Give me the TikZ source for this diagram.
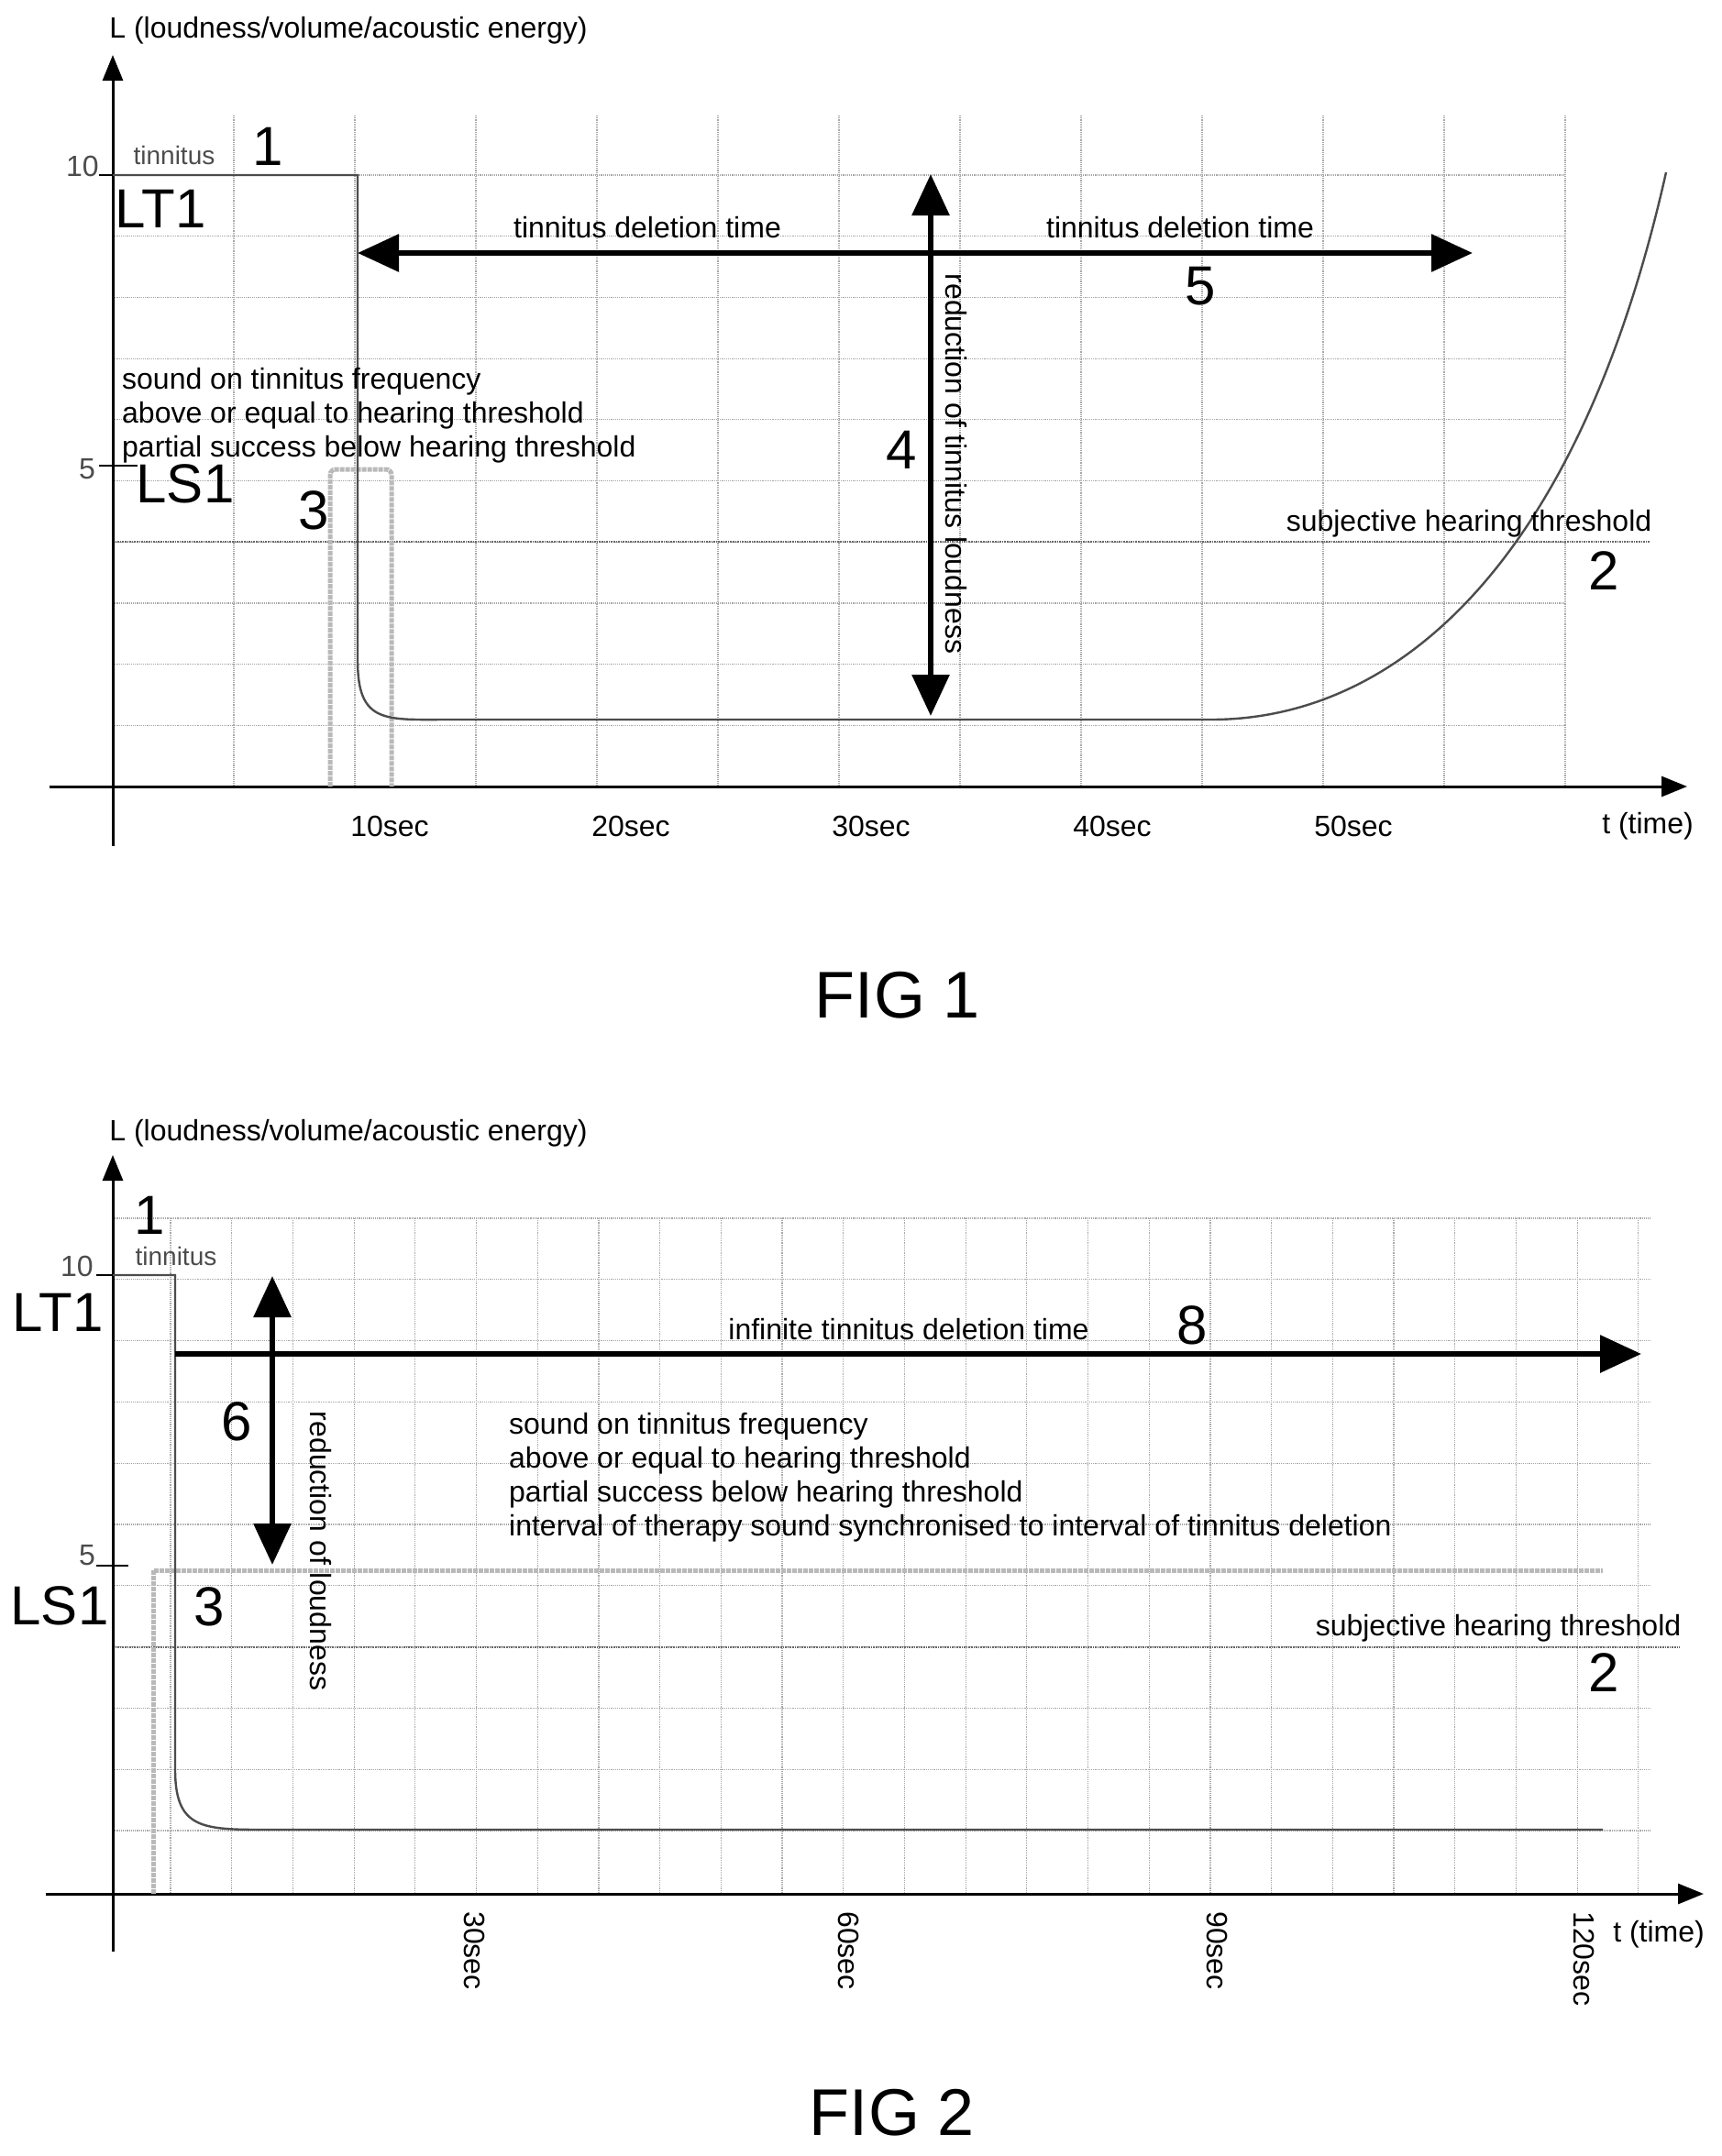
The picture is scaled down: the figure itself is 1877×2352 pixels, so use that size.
\documentclass[tikz,border=0pt]{standalone}
\usepackage{fontspec}
\setmainfont{Liberation Sans}
\usetikzlibrary{arrows.meta}
\begin{document}
\begin{tikzpicture}[x=1pt,y=-1pt,
  grid/.style={gray!70,densely dotted,line width=1.2pt},
  thr/.style={gray!80!black,densely dotted,line width=1.6pt},
  axis/.style={line width=3pt,-{Triangle[width=22pt,length=28pt]}},
  curve/.style={gray!60!black,line width=2.4pt},
  sound/.style={gray!55,line width=5pt,densely dotted},
  big/.style={line width=6pt,{Triangle[width=40pt,length=45pt]}-{Triangle[width=40pt,length=45pt]}},
  bigr/.style={line width=6pt,-{Triangle[width=40pt,length=45pt]}},
  lbl/.style={font=\fontsize{32}{37}\selectfont,inner sep=0pt},
  slbl/.style={font=\fontsize{28}{32}\selectfont,text=gray!60!black,inner sep=0pt},
  num/.style={font=\fontsize{60}{64}\selectfont,inner sep=0pt},
  fig/.style={font=\fontsize{72}{80}\selectfont,inner sep=0pt}]
\useasboundingbox (0,0) rectangle (1877,2352);
\fill[white] (0,0) rectangle (1877,2352);
% ===== FIG 1 =====
\foreach \k in {0,...,9} \draw[grid] (123,191+66.7*\k) -- (1707,191+66.7*\k);
\foreach \k in {1,...,12} \draw[grid] (123+132*\k,126) -- (123+132*\k,858);
\draw[thr] (123,591) -- (1800,591);
\coordinate (a1b) at (123,923); \coordinate (a1t) at (123,60);
\coordinate (x1l) at (54,858); \coordinate (x1r) at (1840,858);
\draw[axis] (a1b) -- (a1t);
\draw[axis] (x1l) -- (x1r);
\draw[line width=2pt] (108,191) -- (123,191) (108,508) -- (150,508);
\draw[sound,rounded corners=6pt] (360,858) -- (360,512) -- (427,512) -- (427,858);
\draw[curve] (123,191) -- (390,191) -- (390,720) .. controls (390,790) and (420,785) .. (490,785) -- (1321,785) .. controls (1520,785) and (1720,620) .. (1817,188);
\coordinate (h1l) at (390,276); \coordinate (h1r) at (1606,276);
\draw[big] (h1l) -- (h1r);
\coordinate (v1t) at (1015,190); \coordinate (v1b) at (1015,781);
\draw[big] (v1t) -- (v1b);
\node[lbl] (l1) at (380,33) {L (loudness/volume/acoustic energy)};
\node[slbl] (t1) at (190,169) {tinnitus};
\node[num] (n1) at (292,160) {1};
\node[num] (lt1) at (175,228) {LT1};
\node[lbl,text=gray!60!black] (ten1) at (90,181) {10};
\node[lbl,text=gray!60!black] (five1) at (95,512) {5};
\node[num] (ls1) at (202,528) {LS1};
\node[num] (n3) at (342,557) {3};
\node[lbl,anchor=west,align=left] (snd1) at (133,453) {sound on tinnitus frequency\\above or equal to hearing threshold\\partial success below hearing threshold};
\node[lbl] (d1) at (706,248) {tinnitus deletion time};
\node[lbl] (d2) at (1287,248) {tinnitus deletion time};
\node[num] (n5) at (1309,312) {5};
\node[num] (n4) at (983,491) {4};
\node[lbl,rotate=-90] (r1) at (1043,506) {reduction of tinnitus loudness};
\node[lbl] (ht1) at (1602,571) {subjective hearing threshold};
\node[num] (n2) at (1749,623) {2};
\foreach \s/\x in {10/425,20/688,30/950,40/1213,50/1476} \node[lbl] at (\x,901) {\s sec};
\node[lbl] (tt1) at (1797,901) {t (time)};
\node[fig] (f1) at (979,1086) {FIG 1};
% ===== FIG 2 =====
\foreach \k in {0,...,10} \draw[grid] (123,1329+66.8*\k) -- (1800,1329+66.8*\k);
\foreach \k in {0,...,24} \draw[grid] (186+66.7*\k,1329) -- (186+66.7*\k,2066);
\draw[thr] (123,1797) -- (1832,1797);
\coordinate (a2b) at (123,2129); \coordinate (a2t) at (123,1260);
\coordinate (x2l) at (50,2066); \coordinate (x2r) at (1858,2066);
\draw[axis] (a2b) -- (a2t);
\draw[axis] (x2l) -- (x2r);
\draw[line width=2pt] (105,1391) -- (145,1391) (105,1708) -- (140,1708);
\draw[sound] (167,2066) -- (167,1713) -- (1748,1713);
\draw[curve] (123,1391) -- (191,1391) -- (191,1930) .. controls (191,1995) and (220,1996) .. (290,1996) -- (1748,1996);
\coordinate (h2l) at (191,1477); \coordinate (h2r) at (1790,1477);
\draw[bigr] (h2l) -- (h2r);
\coordinate (v2t) at (297,1392); \coordinate (v2b) at (297,1707);
\draw[big] (v2t) -- (v2b);
\node[lbl] (l2) at (380,1236) {L (loudness/volume/acoustic energy)};
\node[num] (m1) at (163,1326) {1};
\node[slbl] (t2) at (192,1370) {tinnitus};
\node[lbl,text=gray!60!black] (ten2) at (84,1381) {10};
\node[num] (lt2) at (63,1432) {LT1};
\node[lbl,text=gray!60!black] (five2) at (95,1697) {5};
\node[num] (ls2) at (65,1752) {LS1};
\node[num] (m3) at (228,1753) {3};
\node[num] (m6) at (258,1551) {6};
\node[lbl,rotate=-90] (r2) at (350,1692) {reduction of loudness};
\node[lbl] (d3) at (991,1450) {infinite tinnitus deletion time};
\node[num] (m8) at (1300,1446) {8};
\node[lbl,anchor=west,align=left] (snd2) at (555,1612) {sound on tinnitus frequency\\above or equal to hearing threshold\\partial success below hearing threshold\\interval of therapy sound synchronised to interval of tinnitus deletion};
\node[lbl] (ht2) at (1634,1776) {subjective hearing threshold};
\node[num] (m2) at (1749,1825) {2};
\foreach \s/\x in {30/518,60/926,90/1327,120/1727} \node[lbl,rotate=-90,anchor=west] at (\x,2085) {\s sec};
\node[lbl] (tt2) at (1809,2110) {t (time)};
\node[fig] (f2) at (973,2305) {FIG 2};
\end{tikzpicture}
\end{document}
